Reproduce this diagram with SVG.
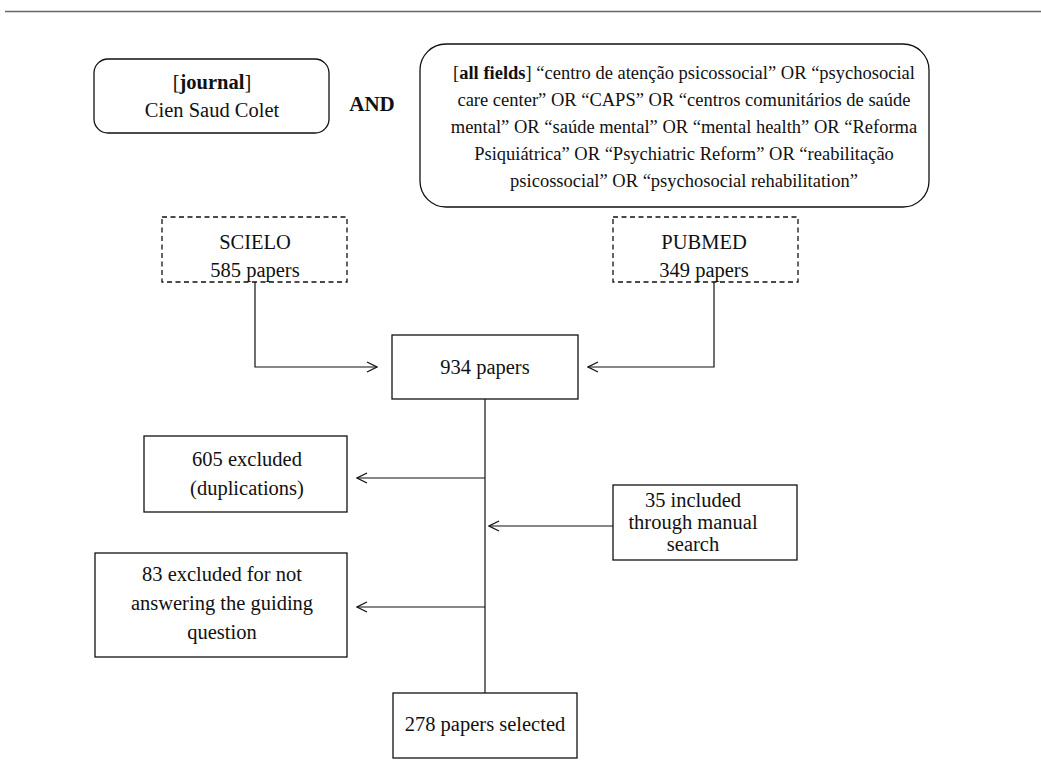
<svg xmlns="http://www.w3.org/2000/svg" width="1041" height="778" viewBox="0 0 1041 778">
<style>
text{font-family:"Liberation Serif","Times New Roman",serif;font-size:20.5px;fill:#111;text-anchor:middle}
.q{font-size:18.5px}
.b{font-weight:bold}
.box{fill:#fff;stroke:#111;stroke-width:1.3}
.dash{fill:#fff;stroke:#111;stroke-width:1.3;stroke-dasharray:5,3.5}
.ln{fill:none;stroke:#111;stroke-width:1.2}
</style>
<defs>
<marker id="arr" viewBox="0 0 12 12" refX="11" refY="6" markerWidth="12" markerHeight="12" markerUnits="userSpaceOnUse" orient="auto">
<path d="M1,1 L11,6 L1,11" fill="none" stroke="#111" stroke-width="1.3"/>
</marker>
</defs>
<rect width="1041" height="778" fill="#fff"/>
<line x1="5" y1="11.5" x2="1041" y2="11.5" stroke="#666" stroke-width="1.5"/>
<g id="journal">
<rect class="box" x="94" y="59" width="235" height="74" rx="14"/>
<text x="212" y="89">[<tspan class="b">journal</tspan>]</text>
<text x="212" y="117">Cien Saud Colet</text>
</g>
<g id="and"><text class="b" x="372" y="111" style="font-size:21px">AND</text></g>
<g id="query">
<rect class="box" x="420" y="44" width="509" height="163" rx="26"/>
<text class="q" x="684" y="79">[<tspan class="b">all fields</tspan>] “centro de atenção psicossocial” OR “psychosocial</text>
<text class="q" x="684" y="106">care center” OR “CAPS” OR “centros comunitários de saúde</text>
<text class="q" x="684" y="133">mental” OR “saúde mental” OR “mental health” OR “Reforma</text>
<text class="q" x="684" y="160">Psiquiátrica” OR “Psychiatric Reform” OR “reabilitação</text>
<text class="q" x="684" y="187">psicossocial” OR “psychosocial rehabilitation”</text>
</g>
<g id="scielo">
<rect class="dash" x="162" y="217" width="185" height="65"/>
<text x="255" y="249">SCIELO</text>
<text x="255" y="277">585 papers</text>
</g>
<g id="pubmed">
<rect class="dash" x="613" y="217" width="185" height="65"/>
<text x="704" y="249">PUBMED</text>
<text x="704" y="277">349 papers</text>
</g>
<g id="n934">
<rect class="box" x="392" y="335" width="186" height="64"/>
<text x="485" y="374">934 papers</text>
</g>
<g id="n605">
<rect class="box" x="144" y="436" width="203" height="76"/>
<text x="247" y="466">605 excluded</text>
<text x="247" y="495">(duplications)</text>
</g>
<g id="n35">
<rect class="box" x="613" y="485" width="184" height="75"/>
<text x="693" y="507">35 included</text>
<text x="693" y="529">through manual</text>
<text x="693" y="551">search</text>
</g>
<g id="n83">
<rect class="box" x="95" y="553" width="252" height="104"/>
<text x="222" y="581">83 excluded for not</text>
<text x="222" y="610">answering the guiding</text>
<text x="222" y="639">question</text>
</g>
<g id="n278">
<rect class="box" x="393" y="693" width="184" height="65"/>
<text x="485" y="731">278 papers selected</text>
</g>
<g id="connectors">
<polyline class="ln" points="255,282 255,367 377,367" marker-end="url(#arr)"/>
<polyline class="ln" points="714,282 714,367 588,367" marker-end="url(#arr)"/>
<line class="ln" x1="485" y1="399" x2="485" y2="693"/>
<line class="ln" x1="485" y1="478" x2="357" y2="478" marker-end="url(#arr)"/>
<line class="ln" x1="613" y1="526" x2="489" y2="526" marker-end="url(#arr)"/>
<line class="ln" x1="485" y1="607" x2="357" y2="607" marker-end="url(#arr)"/>
</g>
</svg>
